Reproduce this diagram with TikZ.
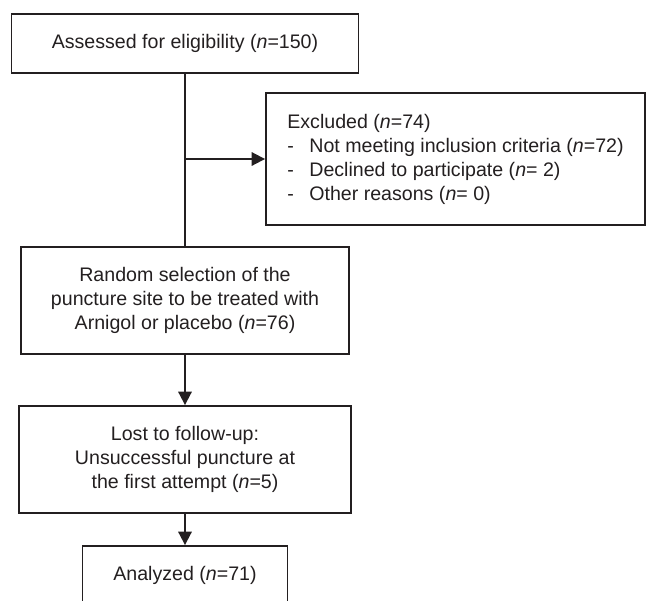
\documentclass[tikz,border=0pt]{standalone}
\usepackage{fontspec}
\setmainfont{Liberation Sans}
\usetikzlibrary{arrows.meta,positioning}
\usepackage{xcolor}
\definecolor{Ink}{HTML}{231F20}
\tikzset{
 box/.style={draw=Ink, line width=1.4pt, text=Ink, align=center, inner sep=0pt, font=\fontsize{14.7}{18}\selectfont},
 link/.style={line width=1.4pt, draw=Ink},
 arrow/.style={link, -{Triangle[length=10pt,width=10pt]}}
}
\newcommand{\nn}{\textit{n}}
\newcommand{\dashitem}[1]{\makebox[16.5pt][l]{-}#1}

\begin{document}
\begin{tikzpicture}[x=0.75pt,y=-0.75pt]
\useasboundingbox (0,0) rectangle (646,600);
\node[box,minimum width=260.25pt,minimum height=44.25pt] (assess) at (185,43.5) {Assessed for eligibility (\nn=150)};
\node[box,align=left,minimum width=284.25pt,minimum height=99pt] (excl) at (455.5,159) {
Excluded (\nn=74)\\
\dashitem{Not meeting inclusion criteria (\nn=72)}\\
\dashitem{Declined to participate (\nn= 2)}\\
\dashitem{Other reasons (\nn= 0)}
};
\node[box,minimum width=246pt,minimum height=80.25pt] (random) at (185,300.5) {
Random selection of the\\
puncture site to be treated with\\
Arnigol or placebo (\nn=76)
};
\node[box,minimum width=249pt,minimum height=80.25pt] (lost) at (185,459.5) {
Lost to follow-up:\\
Unsuccessful puncture at\\
the first attempt (\nn=5)
};
\node[box,minimum width=153.75pt,minimum height=43.5pt] (analyzed) at (185,575) {Analyzed (\nn=71)};
\draw[link] (assess) -- (random);
\draw[arrow] (assess.south |- excl.west) -- (excl.west);
\draw[arrow] (random) -- (lost);
\draw[arrow] (lost) -- (analyzed);
\end{tikzpicture}
\end{document}
